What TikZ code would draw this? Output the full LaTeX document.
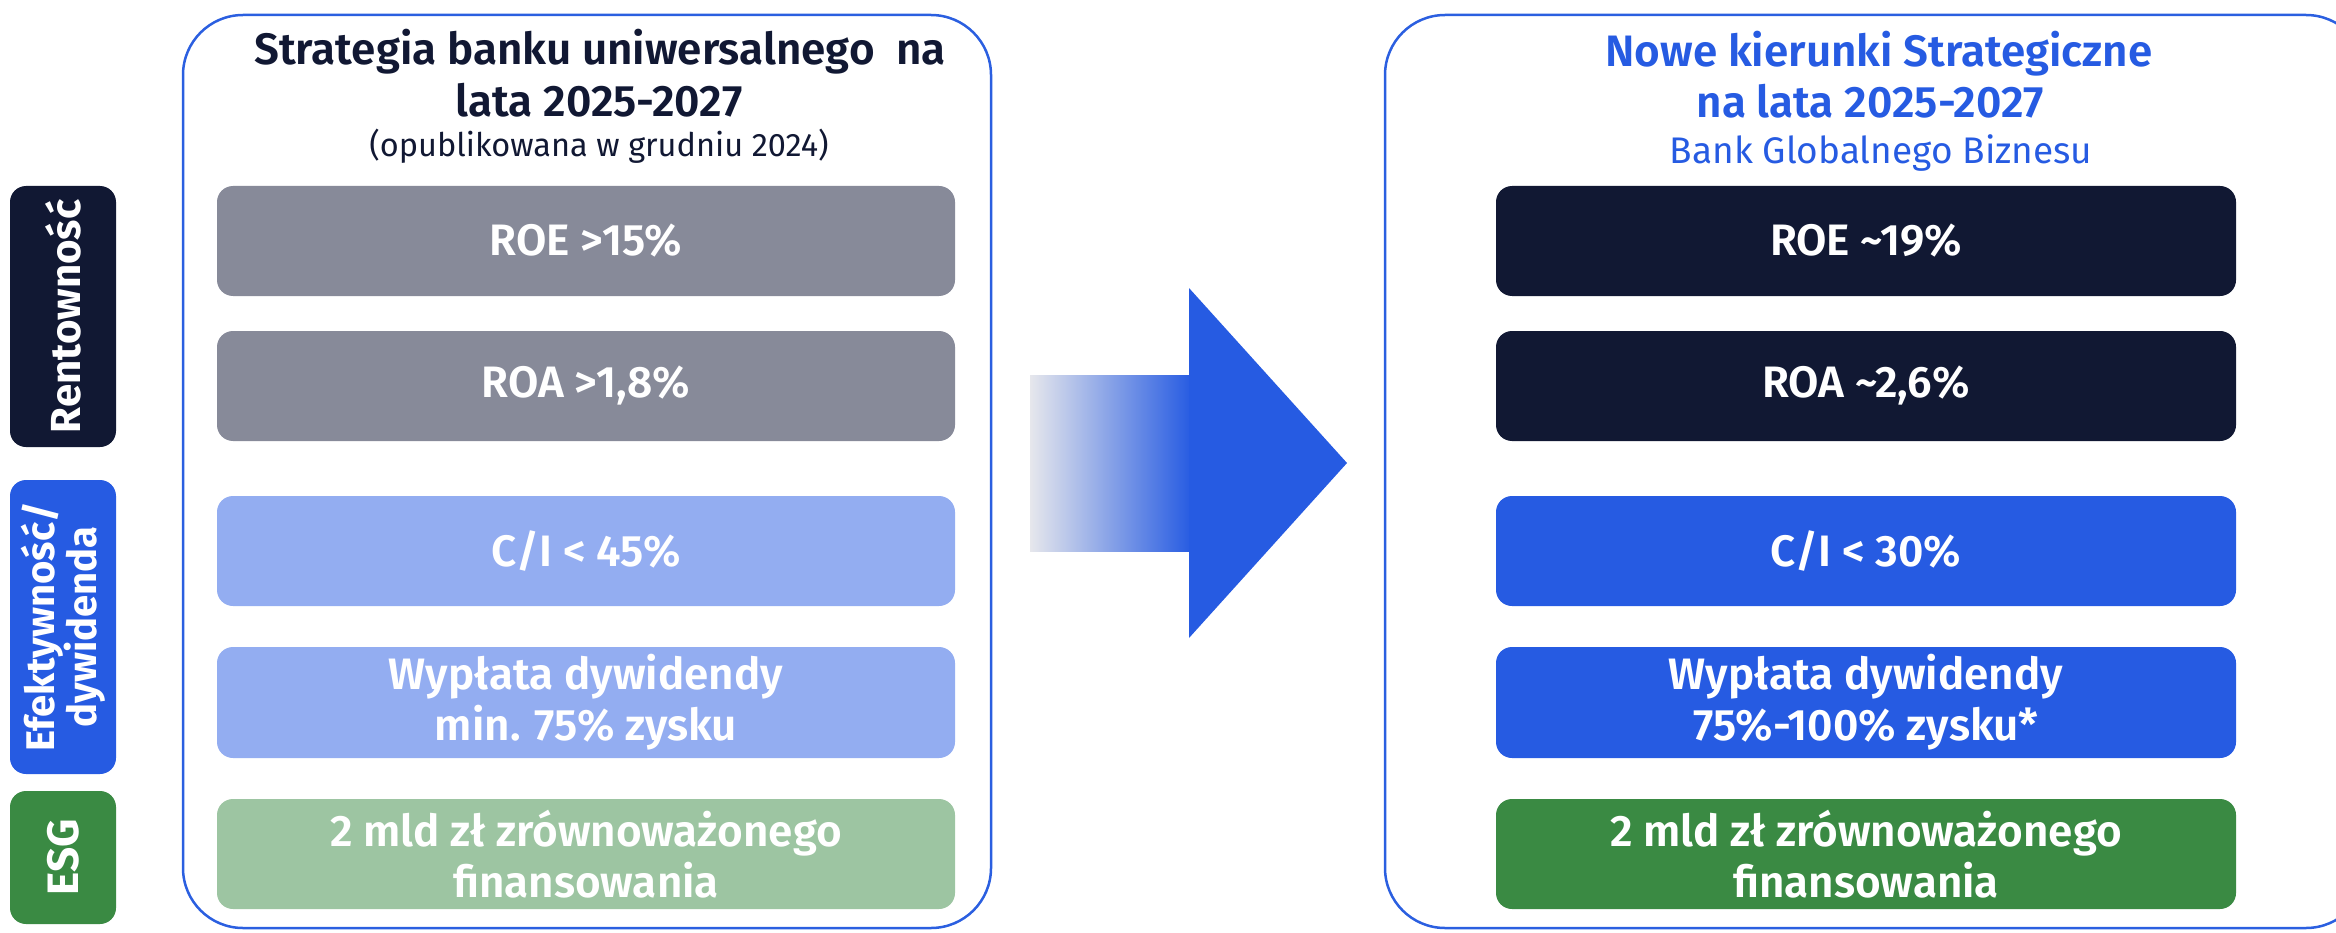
\documentclass[tikz,border=0pt]{standalone}
\usepackage{fontspec}
\setmainfont{Fira Sans}
\newfontfamily\semi{Fira Sans SemiBold}
\newfontfamily\heavy{Fira Sans Bold}
\definecolor{navy}{HTML}{111833}
\definecolor{grayb}{HTML}{878A99}
\definecolor{lblue}{HTML}{93ADF1}
\definecolor{bblue}{HTML}{265BE2}
\definecolor{lgreen}{HTML}{9DC5A2}
\definecolor{dgreen}{HTML}{3A8A43}
\definecolor{border}{HTML}{2B5FE0}
\definecolor{arrgray}{HTML}{E6E7EC}
\definecolor{arrmid}{HTML}{8E9ABE}
\begin{document}
\begin{tikzpicture}[x=1pt,y=-1pt,
  panel/.style={draw=border, line width=2.5pt, rounded corners=60pt, inner sep=0pt},
  item/.style={fill=#1, rounded corners=16pt, inner sep=0pt, minimum height=110pt,
    text=white, align=center, font=\semi\fontsize{44}{51}\selectfont},
  lab/.style={fill=#1, rounded corners=16pt, inner sep=0pt, minimum width=106pt},
  labtxt/.style={text=white, align=center, rotate=90, inner sep=0pt},
  ttl/.style={anchor=base, inner sep=0pt}]
\useasboundingbox (0,0) rectangle (2336,933);
% panels
\node[panel, minimum width=808pt, minimum height=913pt] (lp) at (587,471.5) {};
\begin{scope}
\clip (0,0) rectangle (2336,933);
\node[panel, minimum width=981pt, minimum height=913pt] (rp) at (1875.5,471.5) {};
\end{scope}
% left titles
\node[ttl, text=navy, font=\semi\fontsize{44}{48}\selectfont] (lt1) at (600,65) {Strategia banku uniwersalnego\ \ na};
\node[ttl, text=navy, font=\semi\fontsize{44}{48}\selectfont] (lt2) at (599,117) {lata 2025-2027};
\node[ttl, text=navy, font=\fontsize{32.5}{36}\selectfont] (lt3) at (599,157) {(opublikowana w grudniu 2024)};
% right titles
\node[ttl, text=bblue, font=\semi\fontsize{44}{48}\selectfont] (rt1) at (1879,67) {Nowe kierunki Strategiczne};
\node[ttl, text=bblue, font=\semi\fontsize{44}{48}\selectfont] (rt2) at (1870,118) {na lata 2025-2027};
\node[ttl, text=bblue, font=\fontsize{37}{40}\selectfont] (rt3) at (1881,164) {Bank Globalnego Biznesu};
% side labels
\node[lab=navy, minimum height=261pt] (s1) at (63,316.5) {};
\node[labtxt, font=\heavy\fontsize{42}{42}\selectfont] (s1t) at (s1.center) {Rentowność};
\node[lab=bblue, minimum height=294pt] (s2) at (63,627) {};
\node[labtxt, font=\heavy\fontsize{40}{39}\selectfont] (s2t) at (s2.center) {Efektywność/\\dywidenda};
\node[lab=dgreen, minimum height=133pt] (s3) at (63,857.5) {};
\node[labtxt, font=\heavy\fontsize{44}{44}\selectfont] (s3t) at (s3.center) {ESG};
% left items
\node[item=grayb, minimum width=738pt] (l1) at (586,241) {ROE >15\%};
\node[item=grayb, minimum width=738pt] (l2) at (586,386) {ROA >1,8\%};
\node[item=lblue, minimum width=738pt] (l3) at (586,551) {C/I < 45\%};
\node[item=lblue, minimum width=738pt, minimum height=111pt] (l4) at (586,702.5) {Wypłata dywidendy\\min. 75\% zysku};
\node[item=lgreen, minimum width=738pt] (l5) at (586,854) {2 mld zł zrównoważonego\\finansowania};
% right items
\node[item=navy, minimum width=740pt] (r1) at (1866,241) {ROE \textasciitilde19\%};
\node[item=navy, minimum width=740pt] (r2) at (1866,386) {ROA \textasciitilde2,6\%};
\node[item=bblue, minimum width=740pt] (r3) at (1866,551) {C/I < 30\%};
\node[item=bblue, minimum width=740pt, minimum height=111pt] (r4) at (1866,702.5) {Wypłata dywidendy\\75\%-100\% zysku*};
\node[item=dgreen, minimum width=740pt] (r5) at (1866,854) {2 mld zł zrównoważonego\\finansowania};
% arrow
\shade[left color=arrgray, middle color=arrmid, right color=bblue] (1030,375) rectangle (1192,551);
\fill[bblue] (1189,288) -- (1347,463) -- (1189,638) -- cycle;
\end{tikzpicture}
\end{document}
